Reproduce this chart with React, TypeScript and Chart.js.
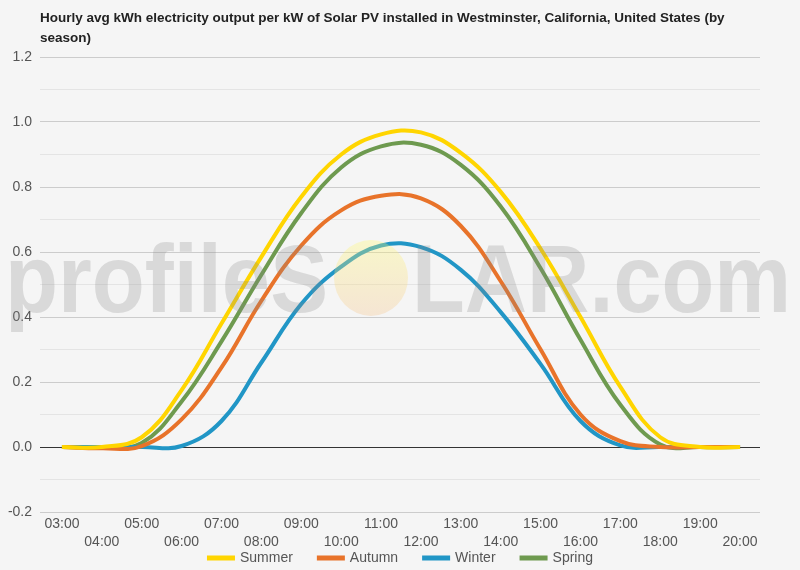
import React, { useEffect, useRef } from 'react';
import { Chart, registerables } from 'chart.js';

Chart.register(...registerables);

// ---- data ----
const hours = [3, 4, 5, 6, 7, 8, 9, 10, 11, 12, 13, 14, 15, 16, 17, 18, 19, 20];
const hourLabels = hours.map((h) => String(h).padStart(2, '0') + ':00');

const summer = [0, 0, 0.03, 0.175, 0.38, 0.585, 0.77, 0.9, 0.962, 0.968, 0.905, 0.785, 0.61, 0.4, 0.185, 0.03, 0, 0];
const autumn = [0, -0.004, 0.003, 0.085, 0.245, 0.45, 0.62, 0.728, 0.773, 0.765, 0.68, 0.51, 0.3, 0.1, 0.018, 0, 0, 0];
const winter = [0, 0, 0, 0.003, 0.08, 0.26, 0.44, 0.555, 0.62, 0.615, 0.545, 0.415, 0.255, 0.08, 0.005, 0, 0, 0];
const spring = [0, 0, 0.012, 0.14, 0.325, 0.53, 0.72, 0.86, 0.925, 0.93, 0.868, 0.74, 0.55, 0.33, 0.13, 0.008, 0, 0];

const seriesNames = ['Summer', 'Autumn', 'Winter', 'Spring'];
const seriesValues = [summer, autumn, winter, spring];
const seriesColors = ['#FFD500', '#E8732A', '#2196C6', '#6E9A4F'];

const titleLines = [
  'Hourly avg kWh electricity output per kW of Solar PV installed in Westminster, California, United States (by',
  'season)',
];
const watermarkLeft = 'profileS';
const watermarkRight = 'LAR.com';

const FONT = 'Arial, "Liberation Sans", sans-serif';

export default function App() {
  const canvasRef = useRef<HTMLCanvasElement | null>(null);

  useEffect(() => {
    const canvas = canvasRef.current;
    if (!canvas) return;

    const bgPlugin = {
      id: 'bg',
      beforeDraw(chart: any) {
        const { ctx, width, height } = chart;
        ctx.save();
        ctx.fillStyle = '#f5f5f5';
        ctx.fillRect(0, 0, width, height);
        ctx.restore();
      },
    };

    const watermarkPlugin = {
      id: 'watermark',
      afterDatasetsDraw(chart: any) {
        const { ctx } = chart;
        ctx.save();
        ctx.font = `bold 96px ${FONT}`;
        ctx.textBaseline = 'alphabetic';
        ctx.textAlign = 'left';
        ctx.fillStyle = 'rgba(135,135,135,0.25)';
        ctx.fillText(watermarkLeft, 5, 312, 323);
        ctx.fillText(watermarkRight, 412, 312, 379);
        const grad = ctx.createLinearGradient(0, 240, 0, 317);
        grad.addColorStop(0, 'rgba(255,250,110,0.32)');
        grad.addColorStop(1, 'rgba(245,195,140,0.32)');
        ctx.fillStyle = grad;
        ctx.beginPath();
        ctx.ellipse(371, 278, 37, 38, 0, 0, Math.PI * 2);
        ctx.fill();
        ctx.restore();
      },
    };

    const titlePlugin = {
      id: 'customTitle',
      afterDraw(chart: any) {
        const { ctx, chartArea } = chart;
        ctx.save();
        ctx.font = `bold 13.5px ${FONT}`;
        ctx.fillStyle = '#222';
        ctx.textBaseline = 'middle';
        ctx.textAlign = 'left';
        titleLines.forEach((line, i) => {
          ctx.fillText(line, chartArea.left, 18 + i * 20);
        });
        ctx.restore();
      },
    };

    const legendPlugin = {
      id: 'customLegend',
      afterDraw(chart: any) {
        const { ctx, width } = chart;
        ctx.save();
        ctx.font = `14px ${FONT}`;
        ctx.textBaseline = 'middle';
        ctx.textAlign = 'left';
        const sw = 28;
        const gap = 5;
        const itemGap = 24;
        const widths = seriesNames.map((n) => sw + gap + ctx.measureText(n).width);
        const total = widths.reduce((a, b) => a + b, 0) + itemGap * (widths.length - 1);
        let x = width / 2 - total / 2;
        const y = 558;
        seriesNames.forEach((n, i) => {
          ctx.fillStyle = seriesColors[i];
          ctx.fillRect(x, y - 2.5, sw, 5);
          ctx.fillStyle = '#555';
          ctx.fillText(n, x + sw + gap, y);
          x += widths[i] + itemGap;
        });
        ctx.restore();
      },
    };

    const chart = new Chart(canvas, {
      type: 'line',
      data: {
        datasets: seriesNames.map((name, i) => ({
          label: name,
          data: hours.map((h, j) => ({ x: h, y: seriesValues[i][j] })),
          borderColor: seriesColors[i],
          backgroundColor: seriesColors[i],
          borderWidth: 4,
          pointRadius: 0,
          pointHoverRadius: 0,
          tension: 0.4,
          fill: false,
        })),
      },
      options: {
        animation: false,
        responsive: false,
        devicePixelRatio: 1,
        layout: { padding: { left: 0, right: 40, top: 57, bottom: 0 } },
        plugins: {
          legend: { display: false },
          title: { display: false },
          tooltip: { enabled: false },
        },
        scales: {
          x: {
            type: 'linear',
            min: 2.45,
            max: 20.5,
            afterBuildTicks(scale: any) {
              scale.ticks = hours.map((h) => ({ value: h }));
            },
            afterFit(scale: any) {
              scale.height = 58;
            },
            grid: { display: false, drawTicks: false },
            border: { display: false },
            ticks: {
              autoSkip: false,
              maxRotation: 0,
              minRotation: 0,
              padding: 3,
              color: '#555',
              font: { family: FONT, size: 14, lineHeight: 1.286 },
              callback(value: any) {
                const idx = hours.indexOf(Number(value));
                if (idx < 0) return '';
                const lbl = hourLabels[idx];
                return idx % 2 === 0 ? [lbl, ''] : ['', lbl];
              },
            },
          },
          y: {
            min: -0.2,
            max: 1.2,
            afterFit(scale: any) {
              scale.width = 40;
            },
            border: { display: false },
            grid: {
              drawTicks: false,
              lineWidth: 1,
              color(ctx: any) {
                const v = Math.round(ctx.tick.value * 10);
                if (v === 0) return '#333';
                return v % 2 === 0 ? '#cccccc' : '#e4e4e4';
              },
            },
            ticks: {
              stepSize: 0.1,
              padding: 8,
              color: '#555',
              font: { family: FONT, size: 14 },
              callback(value: any) {
                const v = Math.round(Number(value) * 10);
                return v % 2 === 0 ? (v / 10).toFixed(1) : '';
              },
            },
          },
        },
      },
      plugins: [bgPlugin, watermarkPlugin, titlePlugin, legendPlugin],
    });

    return () => {
      chart.destroy();
    };
  }, []);

  return (
    <div style={{ position: 'absolute', left: 0, top: 0, width: 800, height: 570 }}>
      <canvas ref={canvasRef} width={800} height={570} style={{ display: 'block' }} />
    </div>
  );
}
